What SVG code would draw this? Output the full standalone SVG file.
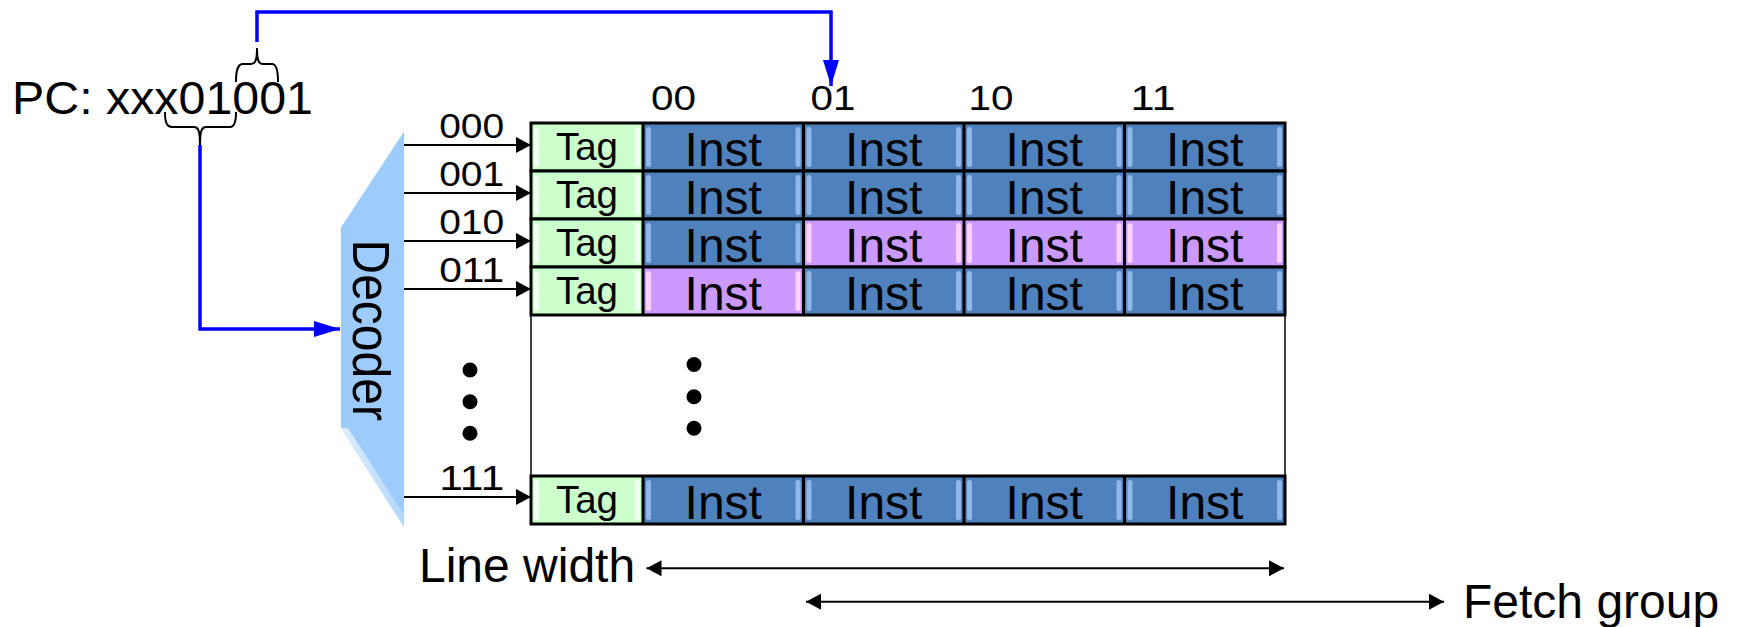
<svg xmlns="http://www.w3.org/2000/svg" width="1739" height="627" viewBox="0 0 1739 627">
<style>
text{font-family:"Liberation Sans",Arial,sans-serif;fill:#000}
.big{font-size:48px}
.lbl{font-size:35px}
.tagt{font-size:38.5px;text-anchor:middle}
.inst{font-size:48px;text-anchor:middle}
.ctag{fill:#CCFFCC}
.cblue{fill:#4F81BD}
.cpink{fill:#CC99FF}
.sg{fill:#F2FFF2}
.sb{fill:#8FB7EA}
.sp{fill:#FAD2FF}
.rowline{fill:none;stroke:#000;stroke-width:3}
.div{stroke:#000;stroke-width:3}
.blk{stroke:#000;stroke-width:2;fill:none}
.blue{stroke:#0000FF;stroke-width:3.5;fill:none}
.brace{stroke:#000;stroke-width:2;fill:none}
</style>
<defs>
<marker id="ah" markerUnits="userSpaceOnUse" markerWidth="15" markerHeight="16" refX="15" refY="8" orient="auto-start-reverse"><path d="M0,0 L15,8 L0,16 z" fill="#000"/></marker>
<marker id="ahb" markerUnits="userSpaceOnUse" markerWidth="26" markerHeight="16" refX="26" refY="8" orient="auto"><path d="M0,0 L26,8 L0,16 z" fill="#0000FF"/></marker>
<linearGradient id="bev" x1="0" y1="0" x2="1" y2="0"><stop offset="0" stop-color="#EAF4FE"/><stop offset="1" stop-color="#B7D9FC"/></linearGradient>
</defs>
<rect width="1739" height="627" fill="#fff"/>

<g id="pc">
<text x="12" y="114" style="font-size:46px" textLength="301" lengthAdjust="spacingAndGlyphs">PC: xxx01001</text>
<path class="brace" d="M165,112 C165,123 167,127 172,127 L194,127 C198,127 200,130 200,145 C200,130 202,127 206,127 L230,127 C234,127 236,123 236,112"/>
<path class="brace" d="M236,82 C236,69 238,64 243,64 L251,64 C255,64 257,61 257,48 C257,61 259,64 263,64 L272,64 C276,64 278,69 278,82"/>
</g>

<g id="decoder">
<polygon points="404,131.5 404,527 341,428 341,227.5" fill="#9DCBFB"/>
<polygon points="341,428 404,527 404,515 348,428" fill="url(#bev)" opacity="0.85"/>
<text class="big" transform="translate(353,239.5) rotate(90) scale(1,1.07)">Decoder</text>
</g>

<g id="row-labels">
<text class="lbl" x="471.7" y="138.3" text-anchor="middle" textLength="65" lengthAdjust="spacingAndGlyphs">000</text>
<text class="lbl" x="471.7" y="186" text-anchor="middle" textLength="65" lengthAdjust="spacingAndGlyphs">001</text>
<text class="lbl" x="471.7" y="234" text-anchor="middle" textLength="65" lengthAdjust="spacingAndGlyphs">010</text>
<text class="lbl" x="471.7" y="282" text-anchor="middle" textLength="65" lengthAdjust="spacingAndGlyphs">011</text>
<text class="lbl" x="471.7" y="490" text-anchor="middle" textLength="65" lengthAdjust="spacingAndGlyphs">111</text>
<circle cx="470" cy="370" r="7.5"/>
<circle cx="470" cy="401.7" r="7.5"/>
<circle cx="470" cy="433.3" r="7.5"/>
</g>

<g id="col-labels">
<text class="lbl" x="651" y="110" textLength="45" lengthAdjust="spacingAndGlyphs">00</text>
<text class="lbl" x="810.5" y="110" textLength="45" lengthAdjust="spacingAndGlyphs">01</text>
<text class="lbl" x="968.5" y="110" textLength="45" lengthAdjust="spacingAndGlyphs">10</text>
<text class="lbl" x="1130.5" y="110" textLength="45" lengthAdjust="spacingAndGlyphs">11</text>
</g>

<g id="cache">
<rect x="531" y="123" width="754" height="401" fill="#fff" stroke="#000" stroke-width="1.5"/>
<circle cx="694" cy="364.5" r="7.5"/>
<circle cx="694" cy="396.7" r="7.5"/>
<circle cx="694" cy="428.3" r="7.5"/>

<g id="row000">
<rect class="ctag" x="531" y="123" width="112" height="48"/><rect class="sg" x="534" y="127" width="5" height="40" rx="2.5"/><rect class="sg" x="635" y="127" width="5" height="40" rx="2.5"/>
<rect class="cblue" x="643" y="123" width="160.5" height="48"/><rect class="sb" x="646" y="127" width="5" height="40" rx="2.5"/><rect class="sb" x="795.5" y="127" width="5" height="40" rx="2.5"/>
<rect class="cblue" x="803.5" y="123" width="160.5" height="48"/><rect class="sb" x="806.5" y="127" width="5" height="40" rx="2.5"/><rect class="sb" x="956" y="127" width="5" height="40" rx="2.5"/>
<rect class="cblue" x="964" y="123" width="160.5" height="48"/><rect class="sb" x="967" y="127" width="5" height="40" rx="2.5"/><rect class="sb" x="1116.5" y="127" width="5" height="40" rx="2.5"/>
<rect class="cblue" x="1124.5" y="123" width="160.5" height="48"/><rect class="sb" x="1127.5" y="127" width="5" height="40" rx="2.5"/><rect class="sb" x="1277" y="127" width="5" height="40" rx="2.5"/>
<text class="tagt" x="587" y="160">Tag</text>
<text class="inst" x="723.25" y="165.5">Inst</text><text class="inst" x="883.75" y="165.5">Inst</text><text class="inst" x="1044.25" y="165.5">Inst</text><text class="inst" x="1204.75" y="165.5">Inst</text>
<rect class="rowline" x="531" y="123" width="754" height="48"/>
<path class="div" d="M643,123V171M803.5,123V171M964,123V171M1124.5,123V171"/>
</g>

<g id="row001">
<rect class="ctag" x="531" y="171" width="112" height="48"/><rect class="sg" x="534" y="175" width="5" height="40" rx="2.5"/><rect class="sg" x="635" y="175" width="5" height="40" rx="2.5"/>
<rect class="cblue" x="643" y="171" width="160.5" height="48"/><rect class="sb" x="646" y="175" width="5" height="40" rx="2.5"/><rect class="sb" x="795.5" y="175" width="5" height="40" rx="2.5"/>
<rect class="cblue" x="803.5" y="171" width="160.5" height="48"/><rect class="sb" x="806.5" y="175" width="5" height="40" rx="2.5"/><rect class="sb" x="956" y="175" width="5" height="40" rx="2.5"/>
<rect class="cblue" x="964" y="171" width="160.5" height="48"/><rect class="sb" x="967" y="175" width="5" height="40" rx="2.5"/><rect class="sb" x="1116.5" y="175" width="5" height="40" rx="2.5"/>
<rect class="cblue" x="1124.5" y="171" width="160.5" height="48"/><rect class="sb" x="1127.5" y="175" width="5" height="40" rx="2.5"/><rect class="sb" x="1277" y="175" width="5" height="40" rx="2.5"/>
<text class="tagt" x="587" y="208">Tag</text>
<text class="inst" x="723.25" y="213.5">Inst</text><text class="inst" x="883.75" y="213.5">Inst</text><text class="inst" x="1044.25" y="213.5">Inst</text><text class="inst" x="1204.75" y="213.5">Inst</text>
<rect class="rowline" x="531" y="171" width="754" height="48"/>
<path class="div" d="M643,171V219M803.5,171V219M964,171V219M1124.5,171V219"/>
</g>

<g id="row010">
<rect class="ctag" x="531" y="219" width="112" height="48"/><rect class="sg" x="534" y="223" width="5" height="40" rx="2.5"/><rect class="sg" x="635" y="223" width="5" height="40" rx="2.5"/>
<rect class="cblue" x="643" y="219" width="160.5" height="48"/><rect class="sb" x="646" y="223" width="5" height="40" rx="2.5"/><rect class="sb" x="795.5" y="223" width="5" height="40" rx="2.5"/>
<rect class="cpink" x="803.5" y="219" width="160.5" height="48"/><rect class="sp" x="806.5" y="223" width="5" height="40" rx="2.5"/><rect class="sp" x="956" y="223" width="5" height="40" rx="2.5"/>
<rect class="cpink" x="964" y="219" width="160.5" height="48"/><rect class="sp" x="967" y="223" width="5" height="40" rx="2.5"/><rect class="sp" x="1116.5" y="223" width="5" height="40" rx="2.5"/>
<rect class="cpink" x="1124.5" y="219" width="160.5" height="48"/><rect class="sp" x="1127.5" y="223" width="5" height="40" rx="2.5"/><rect class="sp" x="1277" y="223" width="5" height="40" rx="2.5"/>
<text class="tagt" x="587" y="256">Tag</text>
<text class="inst" x="723.25" y="261.5">Inst</text><text class="inst" x="883.75" y="261.5">Inst</text><text class="inst" x="1044.25" y="261.5">Inst</text><text class="inst" x="1204.75" y="261.5">Inst</text>
<rect class="rowline" x="531" y="219" width="754" height="48"/>
<path class="div" d="M643,219V267M803.5,219V267M964,219V267M1124.5,219V267"/>
</g>

<g id="row011">
<rect class="ctag" x="531" y="267" width="112" height="48"/><rect class="sg" x="534" y="271" width="5" height="40" rx="2.5"/><rect class="sg" x="635" y="271" width="5" height="40" rx="2.5"/>
<rect class="cpink" x="643" y="267" width="160.5" height="48"/><rect class="sp" x="646" y="271" width="5" height="40" rx="2.5"/><rect class="sp" x="795.5" y="271" width="5" height="40" rx="2.5"/>
<rect class="cblue" x="803.5" y="267" width="160.5" height="48"/><rect class="sb" x="806.5" y="271" width="5" height="40" rx="2.5"/><rect class="sb" x="956" y="271" width="5" height="40" rx="2.5"/>
<rect class="cblue" x="964" y="267" width="160.5" height="48"/><rect class="sb" x="967" y="271" width="5" height="40" rx="2.5"/><rect class="sb" x="1116.5" y="271" width="5" height="40" rx="2.5"/>
<rect class="cblue" x="1124.5" y="267" width="160.5" height="48"/><rect class="sb" x="1127.5" y="271" width="5" height="40" rx="2.5"/><rect class="sb" x="1277" y="271" width="5" height="40" rx="2.5"/>
<text class="tagt" x="587" y="304">Tag</text>
<text class="inst" x="723.25" y="309.5">Inst</text><text class="inst" x="883.75" y="309.5">Inst</text><text class="inst" x="1044.25" y="309.5">Inst</text><text class="inst" x="1204.75" y="309.5">Inst</text>
<rect class="rowline" x="531" y="267" width="754" height="48"/>
<path class="div" d="M643,267V315M803.5,267V315M964,267V315M1124.5,267V315"/>
</g>

<g id="row111">
<rect class="ctag" x="531" y="476" width="112" height="48"/><rect class="sg" x="534" y="480" width="5" height="40" rx="2.5"/><rect class="sg" x="635" y="480" width="5" height="40" rx="2.5"/>
<rect class="cblue" x="643" y="476" width="160.5" height="48"/><rect class="sb" x="646" y="480" width="5" height="40" rx="2.5"/><rect class="sb" x="795.5" y="480" width="5" height="40" rx="2.5"/>
<rect class="cblue" x="803.5" y="476" width="160.5" height="48"/><rect class="sb" x="806.5" y="480" width="5" height="40" rx="2.5"/><rect class="sb" x="956" y="480" width="5" height="40" rx="2.5"/>
<rect class="cblue" x="964" y="476" width="160.5" height="48"/><rect class="sb" x="967" y="480" width="5" height="40" rx="2.5"/><rect class="sb" x="1116.5" y="480" width="5" height="40" rx="2.5"/>
<rect class="cblue" x="1124.5" y="476" width="160.5" height="48"/><rect class="sb" x="1127.5" y="480" width="5" height="40" rx="2.5"/><rect class="sb" x="1277" y="480" width="5" height="40" rx="2.5"/>
<text class="tagt" x="587" y="513">Tag</text>
<text class="inst" x="723.25" y="518.5">Inst</text><text class="inst" x="883.75" y="518.5">Inst</text><text class="inst" x="1044.25" y="518.5">Inst</text><text class="inst" x="1204.75" y="518.5">Inst</text>
<rect class="rowline" x="531" y="476" width="754" height="48"/>
<path class="div" d="M643,476V524M803.5,476V524M964,476V524M1124.5,476V524"/>
</g>
</g>

<g id="line-width">
<text class="big" x="419" y="581.7">Line width</text>
</g>
<g id="fetch-group">
<text class="big" x="1463" y="618">Fetch group</text>
</g>

<g id="connectors">
<path class="blue" d="M257,42V12H831V86" marker-end="url(#ahb)"/>
<path class="blue" d="M200,145V329H340" marker-end="url(#ahb)"/>
<line class="blk" x1="404" y1="145" x2="531" y2="145" marker-end="url(#ah)"/>
<line class="blk" x1="404" y1="193" x2="531" y2="193" marker-end="url(#ah)"/>
<line class="blk" x1="404" y1="241" x2="531" y2="241" marker-end="url(#ah)"/>
<line class="blk" x1="404" y1="289" x2="531" y2="289" marker-end="url(#ah)"/>
<line class="blk" x1="404" y1="497" x2="531" y2="497" marker-end="url(#ah)"/>
<line class="blk" x1="646.5" y1="568.3" x2="1284" y2="568.3" marker-start="url(#ah)" marker-end="url(#ah)"/>
<line class="blk" x1="806" y1="601.7" x2="1444" y2="601.7" marker-start="url(#ah)" marker-end="url(#ah)"/>
</g>
</svg>
